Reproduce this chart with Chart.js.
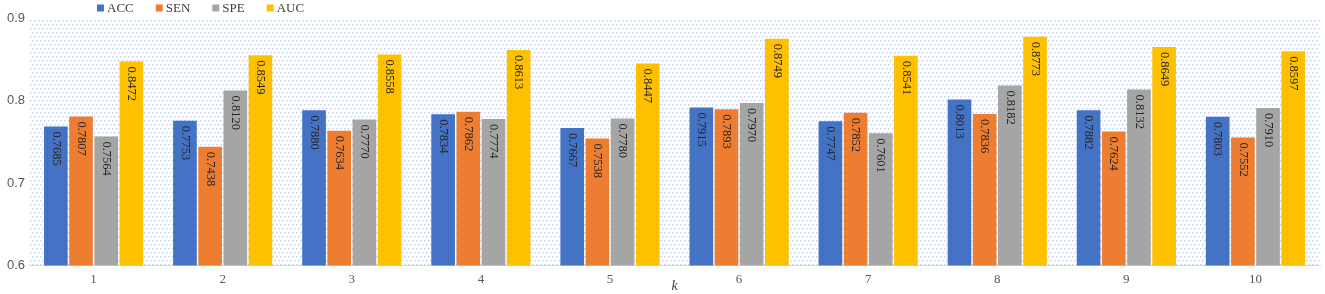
<!DOCTYPE html>
<html>
<head>
<meta charset="utf-8">
<script src="https://cdn.jsdelivr.net/npm/chart.js@4/dist/chart.umd.min.js"></script>
<style>
html,body{margin:0;padding:0;background:#fff;}
#wrap{width:1325px;height:294px;position:relative;}
</style>
</head>
<body>
<div id="wrap"><canvas id="c"></canvas></div>
<script>
const categories = ['1','2','3','4','5','6','7','8','9','10'];
const seriesNames = ['ACC','SEN','SPE','AUC'];
const accValues = [0.7685, 0.7753, 0.7880, 0.7834, 0.7667, 0.7915, 0.7747, 0.8013, 0.7882, 0.7803];
const senValues = [0.7807, 0.7438, 0.7634, 0.7862, 0.7538, 0.7893, 0.7852, 0.7836, 0.7624, 0.7552];
const speValues = [0.7564, 0.8120, 0.7770, 0.7774, 0.7780, 0.7970, 0.7601, 0.8182, 0.8132, 0.7910];
const aucValues = [0.8472, 0.8549, 0.8558, 0.8613, 0.8447, 0.8749, 0.8541, 0.8773, 0.8649, 0.8597];
const yTicks = [0.6, 0.7, 0.8, 0.9];
const xTitle = 'k';

const colors = ['#4472C4', '#ED7D31', '#A5A5A5', '#FFC000'];

// dotted background pattern
function makePattern(ctx) {
  const t = document.createElement('canvas');
  t.width = 8; t.height = 8;
  const g = t.getContext('2d');
  g.fillStyle = '#c3d1ee';
  [[0,0],[4,0],[2,4],[6,4]].forEach(([x,y]) => g.fillRect(x, y, 1.5, 1.5));
  return ctx.createPattern(t, 'repeat');
}

const bgPlugin = {
  id: 'dotBg',
  beforeDatasetsDraw(chart) {
    const {ctx, chartArea: a} = chart;
    ctx.save();
    ctx.fillStyle = makePattern(ctx);
    ctx.fillRect(a.left, a.top, a.right - a.left, a.bottom - a.top);
    ctx.restore();
  }
};

const labelPlugin = {
  id: 'barLabels',
  afterDatasetsDraw(chart) {
    const ctx = chart.ctx;
    ctx.save();
    ctx.font = '12.5px "Liberation Serif", "Times New Roman", serif';
    ctx.fillStyle = '#262626';
    ctx.textBaseline = 'middle';
    ctx.textAlign = 'left';
    chart.data.datasets.forEach((ds, di) => {
      const meta = chart.getDatasetMeta(di);
      meta.data.forEach((bar, i) => {
        const txt = ds.data[i].toFixed(4);
        ctx.save();
        ctx.translate(bar.x, bar.y + 5);
        ctx.rotate(Math.PI / 2);
        ctx.fillText(txt, 0, 0);
        ctx.restore();
      });
    });
    ctx.restore();
  }
};

const legendPlugin = {
  id: 'customLegend',
  afterDraw(chart) {
    const ctx = chart.ctx;
    ctx.save();
    ctx.font = '13px "Liberation Serif", "Times New Roman", serif';
    ctx.textBaseline = 'middle';
    ctx.textAlign = 'left';
    let x = 97;
    const y = 8;
    chart.data.datasets.forEach((ds) => {
      ctx.fillStyle = ds.backgroundColor;
      ctx.fillRect(x, y - 3.5, 7, 7);
      ctx.fillStyle = '#404040';
      ctx.fillText(ds.label, x + 10, y + 0.5);
      x += 10 + ctx.measureText(ds.label).width + 22;
    });
    // axis title
    const a = chart.chartArea;
    ctx.font = 'italic 14px "Liberation Serif", "Times New Roman", serif';
    ctx.textAlign = 'center';
    ctx.fillStyle = '#404040';
    ctx.fillText(xTitle, (a.left + a.right) / 2, 286);
    ctx.restore();
  }
};

const datasets = [accValues, senValues, speValues, aucValues].map((vals, i) => ({
  label: seriesNames[i],
  data: vals,
  backgroundColor: colors[i],
  borderWidth: 0,
  barPercentage: 0.94,
  categoryPercentage: 0.78
}));

new Chart(document.getElementById('c'), {
  type: 'bar',
  data: { labels: categories, datasets },
  options: {
    responsive: true,
    maintainAspectRatio: false,
    animation: false,
    layout: { padding: { top: 18, right: 5, left: 3, bottom: 1 } },
    plugins: { legend: { display: false }, tooltip: { enabled: false } },
    scales: {
      x: {
        grid: { display: false, drawTicks: false },
        border: { display: true, color: '#d9d9d9', width: 1 },
        ticks: { color: '#595959', font: { family: '"Liberation Serif", "Times New Roman", serif', size: 13 }, padding: 6 }
      },
      y: {
        min: 0.6, max: 0.9,
        afterBuildTicks(axis) { axis.ticks = yTicks.map(v => ({ value: v })); },
        grid: { display: false, drawTicks: false },
        border: { display: false },
        ticks: { color: '#595959', font: { family: '"Liberation Sans", Arial, sans-serif', size: 13 }, padding: 4,
          callback: v => v.toFixed(1) }
      }
    }
  },
  plugins: [bgPlugin, labelPlugin, legendPlugin]
});
</script>
</body>
</html>
